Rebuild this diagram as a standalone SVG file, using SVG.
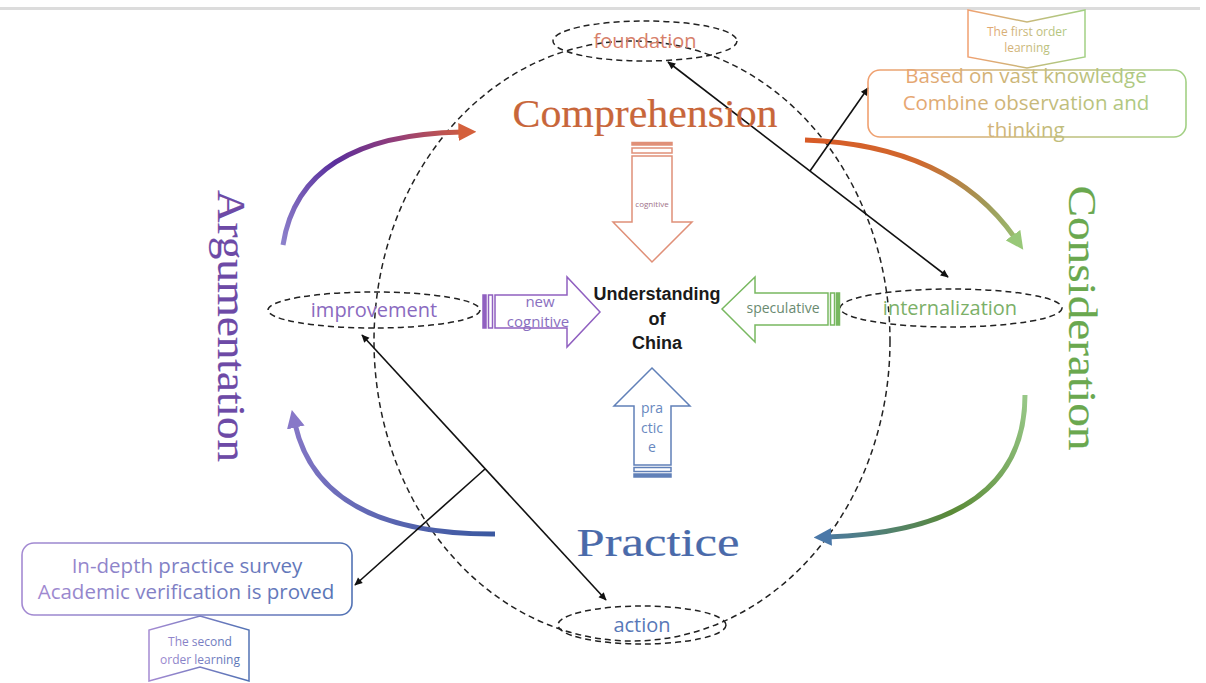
<svg xmlns="http://www.w3.org/2000/svg" width="1206" height="683" viewBox="0 0 1206 683">
<style>
.dash{fill:none;stroke:#222;stroke-width:1.5;stroke-dasharray:6 4}
.blk{fill:none;stroke:#111;stroke-width:1.6}
.lbl{font-family:"Open Sans","Liberation Sans",sans-serif;font-size:20px;text-anchor:middle}
.big{font-family:"Liberation Serif","DejaVu Serif",serif;font-size:40px;text-anchor:middle;stroke-width:0.2}
.ctr{font-family:"Liberation Sans",Arial,sans-serif;font-weight:bold;font-size:18px;fill:#1a1a1a;text-anchor:middle}
.sm{font-family:"Open Sans","Liberation Sans",sans-serif;text-anchor:middle}
.curve{fill:none;stroke-width:5;stroke-linecap:butt}
</style>
<defs>
<linearGradient id="g1" gradientUnits="userSpaceOnUse" x1="283" y1="245" x2="470" y2="132">
<stop offset="0" stop-color="#8d82cc"/><stop offset="0.4" stop-color="#5a2e9c"/><stop offset="0.7" stop-color="#943e78"/><stop offset="1" stop-color="#d4603c"/>
</linearGradient>
<linearGradient id="g2" gradientUnits="userSpaceOnUse" x1="805" y1="140" x2="1025" y2="250">
<stop offset="0" stop-color="#d85a26"/><stop offset="0.45" stop-color="#d0682e"/><stop offset="0.78" stop-color="#a09a58"/><stop offset="1" stop-color="#98c878"/>
</linearGradient>
<linearGradient id="g3" gradientUnits="userSpaceOnUse" x1="1025" y1="395" x2="815" y2="537">
<stop offset="0" stop-color="#98c888"/><stop offset="0.5" stop-color="#5a8a36"/><stop offset="1" stop-color="#4a78a8"/>
</linearGradient>
<linearGradient id="g4" gradientUnits="userSpaceOnUse" x1="495" y1="534" x2="292" y2="410">
<stop offset="0" stop-color="#3a58a0"/><stop offset="1" stop-color="#8878c8"/>
</linearGradient>
<linearGradient id="gOG" gradientUnits="userSpaceOnUse" x1="868" y1="0" x2="1186" y2="0">
<stop offset="0" stop-color="#f0a070"/><stop offset="1" stop-color="#a2d084"/>
</linearGradient>
<linearGradient id="gOG2" gradientUnits="userSpaceOnUse" x1="968" y1="0" x2="1085" y2="0">
<stop offset="0" stop-color="#f0a070"/><stop offset="1" stop-color="#a2d084"/>
</linearGradient>
<linearGradient id="gPB" gradientUnits="userSpaceOnUse" x1="22" y1="0" x2="352" y2="0">
<stop offset="0" stop-color="#a48ad2"/><stop offset="1" stop-color="#5272b4"/>
</linearGradient>
<linearGradient id="gPB2" gradientUnits="userSpaceOnUse" x1="149" y1="0" x2="249" y2="0">
<stop offset="0" stop-color="#a48ad2"/><stop offset="1" stop-color="#5272b4"/>
</linearGradient>
<marker id="ah" viewBox="0 0 10 10" refX="9" refY="5" markerWidth="10" markerHeight="8" markerUnits="userSpaceOnUse" orient="auto-start-reverse">
<path d="M0,0.5 L10,5 L0,9.5 z" fill="#111"/>
</marker>
<marker id="m1" viewBox="0 0 10 10" refX="2" refY="5" markerWidth="18" markerHeight="18" markerUnits="userSpaceOnUse" orient="auto"><path d="M0,0 L10,5 L0,10 z" fill="#d4603c"/></marker>
<marker id="m2" viewBox="0 0 10 10" refX="2" refY="5" markerWidth="18" markerHeight="18" markerUnits="userSpaceOnUse" orient="auto"><path d="M0,0 L10,5 L0,10 z" fill="#98c878"/></marker>
<marker id="m3" viewBox="0 0 10 10" refX="2" refY="5" markerWidth="18" markerHeight="18" markerUnits="userSpaceOnUse" orient="auto"><path d="M0,0 L10,5 L0,10 z" fill="#4a78a8"/></marker>
<marker id="m4" viewBox="0 0 10 10" refX="2" refY="5" markerWidth="18" markerHeight="18" markerUnits="userSpaceOnUse" orient="auto"><path d="M0,0 L10,5 L0,10 z" fill="#8878c8"/></marker>
</defs>
<rect x="0" y="0" width="1206" height="683" fill="#fff"/>
<rect x="0" y="7" width="1200" height="3" fill="#dcdcdc"/>

<g id="cycle-circle"><ellipse class="dash" cx="632" cy="341" rx="258" ry="300"/></g>

<g id="connectors">
<path class="curve" d="M283,245 Q300,135 462,132" stroke="url(#g1)" marker-end="url(#m1)"/>
<path class="curve" d="M805,140 Q950,145 1015,238" stroke="url(#g2)" marker-end="url(#m2)"/>
<path class="curve" d="M1025,395 Q1025,530 828,537" stroke="url(#g3)" marker-end="url(#m3)"/>
<path class="curve" d="M495,534 Q320,535 295,424" stroke="url(#g4)" marker-end="url(#m4)"/>
<path class="blk" d="M668,62 L948,277" marker-start="url(#ah)" marker-end="url(#ah)"/>
<path class="blk" d="M810,171 L868,88" marker-end="url(#ah)"/>
<path class="blk" d="M362,335 L606,600" marker-start="url(#ah)" marker-end="url(#ah)"/>
<path class="blk" d="M485,469 L355,585" marker-end="url(#ah)"/>
</g>

<g id="foundation"><ellipse class="dash" cx="645" cy="41" rx="92" ry="20"/><text class="lbl" x="645" y="48" fill="#d7806a">foundation</text></g>
<g id="action"><ellipse class="dash" cx="642" cy="625" rx="84" ry="19"/><text class="lbl" x="642" y="632" fill="#5878b8">action</text></g>
<g id="improvement"><ellipse class="dash" cx="374" cy="310" rx="106" ry="18"/><text class="lbl" x="374" y="317" fill="#8a6ac0">improvement</text></g>
<g id="internalization"><ellipse class="dash" cx="951" cy="308" rx="111" ry="19"/><text class="lbl" x="950" y="315" fill="#7cb068">internalization</text></g>

<g id="comprehension"><text class="big" x="645" y="127" fill="#c8663a" stroke="#c8663a" textLength="265" lengthAdjust="spacingAndGlyphs">Comprehension</text></g>
<g id="practice"><text class="big" x="658" y="556" fill="#4a6aaa" stroke="#4a6aaa" textLength="163" lengthAdjust="spacingAndGlyphs">Practice</text></g>
<g id="argumentation"><text class="big" transform="translate(218,326) rotate(90)" x="0" y="0" fill="#6d4aa6" stroke="#6d4aa6" textLength="272" lengthAdjust="spacingAndGlyphs">Argumentation</text></g>
<g id="consideration"><text class="big" transform="translate(1069,318) rotate(90)" x="0" y="0" fill="#6aa84f" stroke="#6aa84f" textLength="265" lengthAdjust="spacingAndGlyphs">Consideration</text></g>

<g id="center"><text class="ctr" x="657" y="300">Understanding</text><text class="ctr" x="657" y="325">of</text><text class="ctr" x="657" y="349">China</text></g>

<g id="arrow-cognitive" fill="none" stroke="#e09078" stroke-width="1.5">
<rect x="632" y="142.5" width="40" height="2.5" fill="#e09078"/>
<rect x="632" y="148" width="40" height="5"/>
<polygon points="632,156 672,156 672,222 692,222 652,262 613,222 632,222"/>
<text class="sm" x="652" y="207" font-size="8" fill="#a07088" stroke="none">cognitive</text>
</g>
<g id="arrow-new-cognitive" fill="none" stroke="#9060c0" stroke-width="1.5">
<rect x="483" y="295" width="3" height="33" fill="#9060c0"/>
<rect x="488.5" y="295" width="4" height="33"/>
<polygon points="495,295 567,295 567,277 600,312 567,347 567,328 495,328"/>
<text class="sm" x="540" y="307" font-size="15" fill="#8a70c0" stroke="none">new</text>
<text class="sm" x="538" y="327" font-size="15" fill="#8a70c0" stroke="none">cognitive</text>
</g>
<g id="arrow-speculative" fill="none" stroke="#78b860" stroke-width="1.5">
<polygon points="722,309 755,277 755,293 828,293 828,325 755,325 755,342"/>
<rect x="830.5" y="293" width="4" height="32"/>
<rect x="836.5" y="293" width="3" height="32" fill="#78b860"/>
<text class="sm" x="783" y="313" font-size="14" fill="#6a8a70" stroke="none">speculative</text>
</g>
<g id="arrow-practice" fill="none" stroke="#6080b8" stroke-width="1.5">
<polygon points="652,368 690,406 671,406 671,465 634,465 634,406 614,406"/>
<rect x="634" y="467.5" width="37" height="4"/>
<rect x="634" y="474" width="37" height="3" fill="#6080b8"/>
<text class="sm" x="652" y="413" font-size="14" fill="#6888c0" stroke="none">pra</text>
<text class="sm" x="652" y="433" font-size="14" fill="#6888c0" stroke="none">ctic</text>
<text class="sm" x="652" y="452" font-size="14" fill="#6888c0" stroke="none">e</text>
</g>

<g id="callout-first">
<rect x="868" y="70" width="318" height="67" rx="12" fill="none" stroke="url(#gOG)" stroke-width="1.6"/>
<text class="sm" font-size="20.5" fill="url(#gOG)" x="1026" y="83">Based on vast knowledge</text>
<text class="sm" font-size="20.5" fill="url(#gOG)" x="1026" y="110">Combine observation and</text>
<text class="sm" font-size="20.5" fill="url(#gOG)" x="1026" y="137">thinking</text>
</g>
<g id="tab-first">
<polygon points="968,10 1027,22 1085,10 1085,57 1027,68 968,57" fill="#fff" stroke="url(#gOG2)" stroke-width="1.5"/>
<text class="sm" font-size="12" fill="url(#gOG2)" x="1027" y="36">The first order</text>
<text class="sm" font-size="12" fill="url(#gOG2)" x="1027" y="52">learning</text>
</g>
<g id="callout-second">
<rect x="22" y="543" width="330" height="72" rx="12" fill="none" stroke="url(#gPB)" stroke-width="1.6"/>
<text class="sm" font-size="20.5" fill="url(#gPB)" x="187" y="573">In-depth practice survey</text>
<text class="sm" font-size="20.5" fill="url(#gPB)" x="186" y="599">Academic verification is proved</text>
</g>
<g id="tab-second">
<polygon points="200,616 249,630 249,681 200,667 149,681 149,630" fill="#fff" stroke="url(#gPB2)" stroke-width="1.5"/>
<text class="sm" font-size="12" fill="url(#gPB2)" x="200" y="646">The second</text>
<text class="sm" font-size="12" fill="url(#gPB2)" x="200" y="664">order learning</text>
</g>
</svg>
